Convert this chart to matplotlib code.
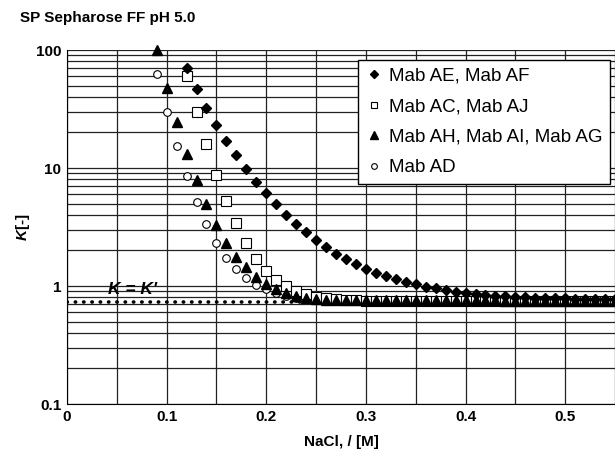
import numpy as np
import matplotlib
matplotlib.use("Agg")
import matplotlib.pyplot as plt
from matplotlib.ticker import FixedLocator, LogLocator, NullFormatter

plt.rcParams['font.family'] = ['Liberation Sans', 'DejaVu Sans']
plt.rcParams['mathtext.fontset'] = 'custom'
plt.rcParams['mathtext.it'] = 'Liberation Sans:italic:bold'
plt.rcParams['mathtext.rm'] = 'Liberation Sans:bold'

# NaCl concentration (M), sampled every 0.01 M
x_ae = np.round(np.arange(12, 56) / 100, 2)
x_ac = np.round(np.arange(12, 56) / 100, 2)
x_ah = np.round(np.arange(9, 56) / 100, 2)
x_ad = np.round(np.arange(9, 56) / 100, 2)

# K values
k_ae = [70, 46.7, 32.1, 23.1, 17.0, 12.8, 9.77, 7.54, 6.10, 4.93, 4.0, 3.35,
        2.85, 2.45, 2.13, 1.87, 1.68, 1.55, 1.40, 1.30, 1.22, 1.15, 1.09, 1.045,
        0.99, 0.957, 0.925, 0.895, 0.867, 0.855, 0.839, 0.827, 0.815, 0.807,
        0.80, 0.795, 0.79, 0.787, 0.785, 0.783, 0.78, 0.78, 0.778, 0.777]
k_ac = [60.2, 30.0, 15.9, 8.78, 5.22, 3.40, 2.33, 1.70, 1.35, 1.12, 1.0, 0.907,
        0.855, 0.812, 0.796, 0.776, 0.761, 0.755, 0.752, 0.75, 0.75, 0.748,
        0.748, 0.747, 0.747, 0.746, 0.746, 0.745, 0.745, 0.745, 0.745, 0.744,
        0.744, 0.744, 0.744, 0.743, 0.743, 0.743, 0.743, 0.743, 0.742, 0.742,
        0.742, 0.742]
k_ah = [100, 47.4, 24.7, 13.2, 7.91, 4.98, 3.29, 2.30, 1.77, 1.44, 1.20, 1.04,
        0.938, 0.878, 0.823, 0.787, 0.771, 0.765, 0.762, 0.76, 0.76, 0.758,
        0.758, 0.757, 0.757, 0.756, 0.756, 0.755, 0.755, 0.755, 0.755, 0.754,
        0.754, 0.754, 0.754, 0.753, 0.753, 0.753, 0.753, 0.753, 0.752, 0.752,
        0.752, 0.752, 0.752, 0.751, 0.751]
k_ad = [62.2, 30.0, 15.4, 8.55, 5.12, 3.33, 2.33, 1.74, 1.39, 1.18, 1.02, 0.938,
        0.867, 0.82, 0.79, 0.77, 0.755, 0.748, 0.745, 0.742, 0.74, 0.74, 0.738,
        0.738, 0.737, 0.737, 0.736, 0.736, 0.735, 0.735, 0.735, 0.735, 0.734,
        0.734, 0.734, 0.734, 0.733, 0.733, 0.733, 0.733, 0.733, 0.732, 0.732,
        0.732, 0.732, 0.732, 0.731]
k_prime = 0.727

labels = ['Mab AE, Mab AF', 'Mab AC, Mab AJ', 'Mab AH, Mab AI, Mab AG', 'Mab AD']

fig = plt.figure(figsize=(6.15, 4.59), dpi=100)
ax = fig.add_axes([67 / 615, 55 / 459, 548 / 615, 354 / 459])

ax.set_yscale('log')
ax.set_xlim(0, 0.55)
ax.set_ylim(0.1, 100)

# grid
ax.xaxis.set_major_locator(FixedLocator([0, 0.1, 0.2, 0.3, 0.4, 0.5]))
ax.xaxis.set_minor_locator(FixedLocator([0.05, 0.15, 0.25, 0.35, 0.45, 0.55]))
ax.yaxis.set_major_locator(LogLocator(base=10))
ax.yaxis.set_minor_locator(LogLocator(base=10, subs=np.arange(2, 10)))
ax.yaxis.set_minor_formatter(NullFormatter())
ax.grid(True, which='both', axis='both', color='#222222', lw=0.9)
ax.set_axisbelow(True)

ax.set_xticklabels(['0', '0.1', '0.2', '0.3', '0.4', '0.5'])
ax.set_yticks([0.1, 1, 10, 100])
ax.set_yticklabels(['0.1', '1', '10', '100'])
ax.tick_params(which='both', length=0, labelsize=11, pad=4)
for t in ax.get_xticklabels() + ax.get_yticklabels():
    t.set_fontweight('bold')

for s in ['top', 'right']:
    ax.spines[s].set_visible(False)

# K = K' line
ax.plot([0, 0.55], [k_prime, k_prime], color='black', lw=2.6,
        linestyle=(0, (0.1, 2.2)), dash_capstyle='round', zorder=2)
ax.text(0.041, 0.93, "K = K'", fontsize=12.5, fontweight='bold', style='italic',
        va='center', ha='left')

ax.plot(x_ad, k_ad, 'o', mfc='white', mec='black', ms=5.5, mew=0.8,
        label=labels[3], clip_on=False, zorder=3)
ax.plot(x_ac, k_ac, 's', mfc='white', mec='black', ms=6.5, mew=0.8,
        label=labels[1], clip_on=False, zorder=3)
ax.plot(x_ah, k_ah, '^', color='black', ms=7, label=labels[2],
        clip_on=False, zorder=4)
ax.plot(x_ae, k_ae, 'D', color='black', ms=5.5, label=labels[0],
        clip_on=False, zorder=4)

h, l = ax.get_legend_handles_labels()
order = [l.index(s) for s in labels]
leg = ax.legend([h[i] for i in order], [l[i] for i in order],
                loc='upper right', bbox_to_anchor=(0.991, 0.972),
                borderaxespad=0, fontsize=13.5, frameon=True, fancybox=False,
                framealpha=1, edgecolor='black', markerscale=0.75,
                handlelength=0.9, handletextpad=0.35, labelspacing=0.72,
                borderpad=0.4)
leg.get_frame().set_linewidth(1.0)
leg.set_zorder(10)

ax.set_xlabel('NaCl, / [M]', fontsize=11, fontweight='bold')
ax.xaxis.set_label_coords(0.5, -0.088)
ax.set_ylabel(r'$K$[-]', fontsize=11, fontweight='bold')
ax.yaxis.set_label_coords(-0.064, 0.5)

fig.text(20 / 615, 1 - 18 / 459, 'SP Sepharose FF pH 5.0', fontsize=11,
         fontweight='bold', va='center', ha='left')

fig.savefig('out.png', dpi=100)
